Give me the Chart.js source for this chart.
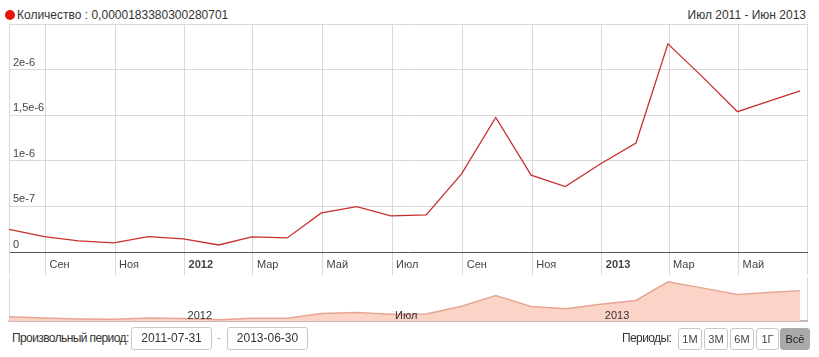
<!DOCTYPE html>
<html>
<head>
<meta charset="utf-8">
<script src="https://cdn.jsdelivr.net/npm/chart.js@4.4.1/dist/chart.umd.min.js"></script>
<style>
  body { margin: 0; background: #fff; font-family: "Liberation Sans", Arial, sans-serif; color: #333; }
  #wrap { position: relative; width: 819px; height: 357px; overflow: hidden; }
  canvas { position: absolute; left: 0; }
  #main { top: 0; }
  #nav { top: 270px; }
  .dot { position: absolute; left: 5px; top: 10px; width: 10px; height: 10px; border-radius: 50%; background: #e8140c; }
  .hdr { position: absolute; top: 8px; font-size: 12px; line-height: 14px; color: #333; }
  .ctl { position: absolute; top: 327px; font-size: 12px; line-height: 23px; color: #333; letter-spacing: -0.6px; }
  .box { position: absolute; top: 327px; height: 21px; border: 1px solid #c8c8c8; border-radius: 3px;
         font-size: 12px; line-height: 21px; text-align: center; color: #333; background: #fff; }
  .btn { position: absolute; top: 328px; height: 20px; border: 1px solid #c8c8c8; border-radius: 3px;
         font-size: 11px; line-height: 20px; text-align: center; color: #444; background: #fff; }
  .btn.on { background: #a9a9a9; border-color: #a9a9a9; color: #222; }
</style>
</head>
<body>
<div id="wrap">
  <div class="dot"></div>
  <div class="hdr" style="left:17px">Количество : 0,0000183380300280701</div>
  <div class="hdr" style="right:13px">Июл 2011 - Июн 2013</div>
  <canvas id="main" width="819" height="278"></canvas>
  <canvas id="nav" width="819" height="52"></canvas>

  <div class="ctl" style="left:12px">Произвольный период:</div>
  <div class="box" style="left:131px;width:79px">2011-07-31</div>
  <div class="ctl" style="left:217px;color:#aaa">-</div>
  <div class="box" style="left:227px;width:79px">2013-06-30</div>

  <div class="ctl" style="left:622px">Периоды:</div>
  <div class="btn" style="left:678px;width:22px">1М</div>
  <div class="btn" style="left:704px;width:22px">3М</div>
  <div class="btn" style="left:730px;width:22px">6М</div>
  <div class="btn" style="left:756px;width:21px">1Г</div>
  <div class="btn on" style="left:780px;width:28px">Всё</div>
</div>
<script>
// monthly values
const dates = ['2011-07-31','2011-08-31','2011-09-30','2011-10-31','2011-11-30','2011-12-31',
               '2012-01-31','2012-02-29','2012-03-31','2012-04-30','2012-05-31','2012-06-30',
               '2012-07-31','2012-08-31','2012-09-30','2012-10-31','2012-11-30','2012-12-31',
               '2013-01-31','2013-02-28','2013-03-31','2013-04-30','2013-05-31','2013-06-24'];
const counts = [2.49e-7, 1.68e-7, 1.21e-7, 0.99e-7, 1.68e-7, 1.43e-7,
                0.77e-7, 1.65e-7, 1.54e-7, 4.29e-7, 4.98e-7, 3.96e-7,
                4.07e-7, 8.57e-7, 1.476e-6, 8.43e-7, 7.18e-7, 9.67e-7,
                1.195e-6, 2.282e-6, 1.912e-6, 1.538e-6, 1.667e-6, 1.766e-6];

const tickDates = ['2011-09-01','2011-11-01','2012-01-01','2012-03-01','2012-05-01','2012-07-01',
                   '2012-09-01','2012-11-01','2013-01-01','2013-03-01','2013-05-01'];
const tickLabels = ['Сен','Ноя','2012','Мар','Май','Июл','Сен','Ноя','2013','Мар','Май'];
const yTickLabels = ['0','5e-7','1e-6','1,5e-6','2e-6',''];
const navTickDates = ['2012-01-01','2012-07-01','2013-01-01'];
const navTickLabels = ['2012','Июл','2013'];

const startDate = '2011-07-31';
const endDate = '2013-06-30';
const day = s => (Date.parse(s) - Date.parse(startDate)) / 86400000;
const xMax = day(endDate);
const points = dates.map((d, i) => ({ x: day(d), y: counts[i] }));

const FONT = '"Liberation Sans", Arial, sans-serif';
const GRID = '#d9d9d9';

function labelAt(values, labels, v) {
  const i = values.findIndex(d => day(d) === v);
  return i < 0 ? '' : labels[i];
}

new Chart(document.getElementById('main'), {
  type: 'line',
  data: {
    datasets: [{
      data: points,
      borderColor: '#c8302c',
      borderWidth: 1.3,
      pointRadius: 0,
      tension: 0,
      fill: false
    }]
  },
  options: {
    responsive: false,
    animation: false,
    layout: { padding: { left: 9, right: 12, top: 24, bottom: 0 } },
    plugins: { legend: { display: false }, tooltip: { enabled: false } },
    scales: {
      x: {
        type: 'linear',
        min: 0,
        max: xMax,
        afterBuildTicks: s => { s.ticks = [0, ...tickDates.map(day), xMax].map(v => ({ value: v })); },
        afterFit: s => { s.height = 26; },
        grid: { color: GRID, tickLength: 23 },
        border: { color: '#555', width: 1 },
        ticks: {
          autoSkip: false,
          maxRotation: 0,
          minRotation: 0,
          align: 'start',
          labelOffset: 4,
          padding: -17,
          color: '#444',
          font: c => ({ family: FONT, size: 11,
            weight: /^\d{4}$/.test(labelAt(tickDates, tickLabels, c.tick && c.tick.value)) ? 'bold' : 'normal' }),
          callback: v => labelAt(tickDates, tickLabels, v)
        }
      },
      y: {
        min: 0,
        max: 2.5e-6,
        afterBuildTicks: s => { s.ticks = yTickLabels.map((_, i) => ({ value: i * 5e-7 })); },
        afterFit: s => { s.width = 0; },
        grid: { color: GRID, drawTicks: false },
        border: { color: GRID },
        ticks: {
          mirror: true,
          padding: 4,
          labelOffset: -7,
          color: '#444',
          font: { family: FONT, size: 11 },
          callback: (v, i) => yTickLabels[i]
        }
      }
    }
  }
});

new Chart(document.getElementById('nav'), {
  type: 'line',
  data: {
    datasets: [{
      data: points,
      borderColor: '#e8a593',
      backgroundColor: '#fcd3c7',
      borderWidth: 1.5,
      pointRadius: 0,
      tension: 0,
      fill: 'origin'
    }]
  },
  options: {
    responsive: false,
    animation: false,
    layout: { padding: { left: 9, right: 12, top: 8, bottom: 0 } },
    plugins: { legend: { display: false }, tooltip: { enabled: false } },
    scales: {
      x: {
        type: 'linear',
        min: 0,
        max: xMax,
        afterBuildTicks: s => { s.ticks = [...navTickDates.map(day), xMax].map(v => ({ value: v })); },
        afterFit: s => { s.height = 1; },
        grid: { drawTicks: false, color: c => (c.tick && c.tick.value === xMax) ? GRID : 'rgba(0,0,0,0)' },
        border: { color: '#c9bab3', width: 2 },
        ticks: {
          z: 1,
          mirror: true,
          autoSkip: false,
          maxRotation: 0,
          minRotation: 0,
          align: 'start',
          labelOffset: 3,
          padding: -2,
          color: '#333',
          font: { family: FONT, size: 11 },
          callback: v => labelAt(navTickDates, navTickLabels, v)
        }
      },
      y: {
        min: 0,
        max: 2.5e-6,
        afterFit: s => { s.width = 0; },
        grid: { display: false },
        border: { color: GRID },
        ticks: { display: false }
      }
    }
  }
});
</script>
</body>
</html>
